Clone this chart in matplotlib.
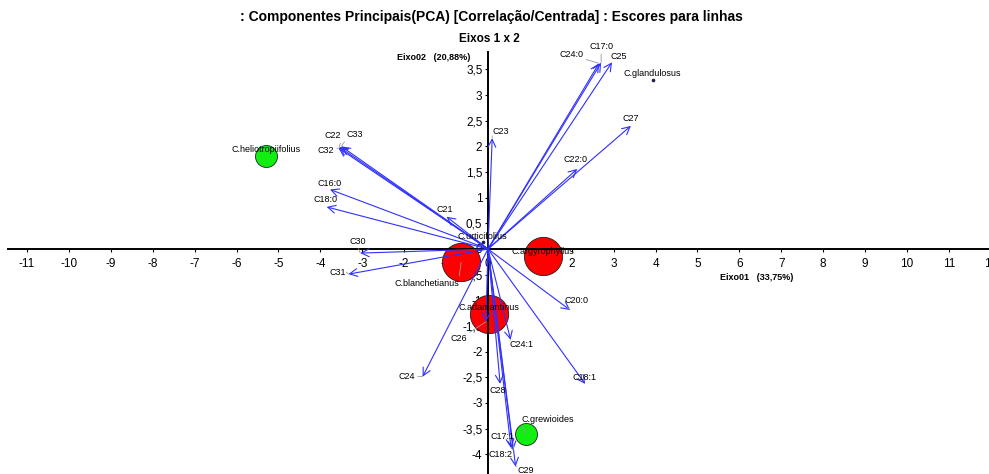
import matplotlib
matplotlib.use("Agg")
import matplotlib.pyplot as plt

plt.rcParams["font.family"] = ["Liberation Sans", "DejaVu Sans"]

# Variable loadings (arrows) on axes 1 and 2
variables = ["C24:0", "C17:0", "C25", "C27", "C22:0", "C23", "C32", "C22", "C33",
             "C16:0", "C18:0", "C21", "C30", "C31", "C26", "C24:1", "C24", "C28",
             "C20:0", "C18:1", "C17:1", "C18:2", "C29"]
var_x = [2.65, 2.70, 2.96, 3.41, 2.13, 0.10, -3.57, -3.55, -3.50,
         -3.77, -3.85, -0.99, -3.05, -3.33, -0.05, 0.54, -1.56, 0.29,
         1.96, 2.32, 0.60, 0.55, 0.66]
var_y = [3.62, 3.63, 3.64, 2.40, 1.56, 2.16, 1.97, 1.99, 2.00,
         1.16, 0.82, 0.63, -0.08, -0.49, -1.42, -1.77, -2.49, -2.63,
         -1.19, -2.63, -3.92, -3.88, -4.24]

# Row scores (species)
species = ["C.glandulosus", "C.heliotropiifolius", "C.argyrophyllus",
           "C.blanchetianus", "C.adamantinus", "C.urticifolius", "C.grewioides"]
sp_x = [3.93, -5.30, 1.31, -0.64, 0.02, -0.13, 0.90]
sp_y = [3.29, 1.82, -0.14, -0.26, -1.27, 0.13, -3.60]

# Marker style per species: (area, face colour)
sp_style = {
    "C.glandulosus": (4, "#10107a"),
    "C.heliotropiifolius": (250, "#11ee11"),
    "C.argyrophyllus": (760, "#ff0000"),
    "C.blanchetianus": (760, "#ff0000"),
    "C.adamantinus": (760, "#ff0000"),
    "C.urticifolius": (4, "#10107a"),
    "C.grewioides": (250, "#11ee11"),
}

# Label offsets in points (dx, dy) from each mark
var_off = {
    "C24:0": (-20, 6.5), "C17:0": (0, 11.5), "C25": (5, 4), "C27": (0, 5),
    "C22:0": (-1.5, 6.5), "C23": (6, 5), "C32": (-9, -1.5), "C22": (-4.5, 8),
    "C33": (9.5, 8.5), "C16:0": (0, 4.5), "C18:0": (-1, 5), "C21": (-1, 5.5),
    "C30": (-2, 8.5), "C31": (-7.5, 1.5), "C26": (-19.5, -12), "C24:1": (8, -3.5),
    "C24": (-11.5, 0.5), "C28": (-1.5, -5), "C20:0": (4.5, 7), "C18:1": (-0.5, 4.5),
    "C17:1": (-8, 9.5), "C18:2": (-7.5, -4.5), "C29": (7, -3),
}
sp_off = {
    "C.glandulosus": (0, 5), "C.heliotropiifolius": (0, 4.5),
    "C.argyrophyllus": (0, 3.5), "C.blanchetianus": (-25, -15),
    "C.adamantinus": (0, 4.5), "C.urticifolius": (0, 4.5),
    "C.grewioides": (16, 10.5),
}

xticks = list(range(-11, 13))
yticks = [v / 2 for v in range(-8, 8)]

W, H = 989, 474
fig = plt.figure(figsize=(W / 100, H / 100), dpi=100)

# axes placed so that the origin sits at the centre of the cross
left_px, right_px, top_px, bot_px = 8, 995, 52, 478
ax = fig.add_axes([left_px / W, (H - bot_px) / H,
                   (right_px - left_px) / W, (bot_px - top_px) / H])
ax.set_xlim(-11.455, 12.10)
ax.set_ylim(-4.464, 3.840)
ax.patch.set_alpha(0)

for side in ("top", "right"):
    ax.spines[side].set_visible(False)
ax.spines["left"].set_position(("data", 0))
ax.spines["bottom"].set_position(("data", 0))
for side in ("left", "bottom"):
    ax.spines[side].set_linewidth(1.4)
    ax.spines[side].set_color("black")

ax.set_xticks(xticks)
ax.set_xticklabels([str(v) for v in xticks])
ax.set_yticks(yticks)
ax.set_yticklabels([f"{v:g}".replace(".", ",") for v in yticks])
ax.tick_params(axis="both", direction="out", length=2.5, width=0.8,
               labelsize=8.5, colors="black")
ax.tick_params(axis="x", pad=4)
ax.tick_params(axis="y", pad=1.5)

# species markers
for name, x, y in zip(species, sp_x, sp_y):
    size, color = sp_style[name]
    ax.scatter([x], [y], s=size, c=color, edgecolors="#202020",
               linewidths=0.6, zorder=2)

# variable arrows
for name, x, y in zip(variables, var_x, var_y):
    ax.annotate("", xy=(x, y), xytext=(0, 0),
                arrowprops=dict(arrowstyle="->,head_length=0.55,head_width=0.28",
                                color="#3030ff", lw=0.8, shrinkA=0, shrinkB=0),
                zorder=3)


def place_label(name, x, y, off):
    dx, dy = off
    far = (dx * dx + dy * dy) ** 0.5 > 7
    rx = 0.5 if abs(dx) < 3 else (1.0 if dx < 0 else 0.0)
    ry = 0.5 if abs(dy) < 3 else (1.0 if dy < 0 else 0.0)
    props = None
    if far:
        props = dict(arrowstyle="-", color="#9a9a9a", lw=0.6,
                     shrinkA=0, shrinkB=0, relpos=(rx, ry))
    ax.annotate(name, xy=(x, y), xytext=(dx, dy), textcoords="offset points",
                ha="center", va="center", fontsize=6.5, color="black",
                arrowprops=props, zorder=4)


for name, x, y in zip(variables, var_x, var_y):
    place_label(name, x, y, var_off[name])
for name, x, y in zip(species, sp_x, sp_y):
    place_label(name, x, y, sp_off[name])

fig.text(491 / W, 1 - 17 / H,
         ": Componentes Principais(PCA) [Correlação/Centrada] : Escores para linhas",
         ha="center", va="center", fontsize=10, fontweight="bold")
fig.text(489 / W, 1 - 39 / H, "Eixos 1 x 2", ha="center", va="center",
         fontsize=8.5, fontweight="bold")
fig.text(470 / W, 1 - 58 / H, "Eixo02   (20,88%)", ha="right", va="center",
         fontsize=6.5, fontweight="bold")
fig.text(757 / W, 1 - 277 / H, "Eixo01   (33,75%)", ha="center", va="center",
         fontsize=6.5, fontweight="bold")

fig.savefig("out.png", dpi=100)
